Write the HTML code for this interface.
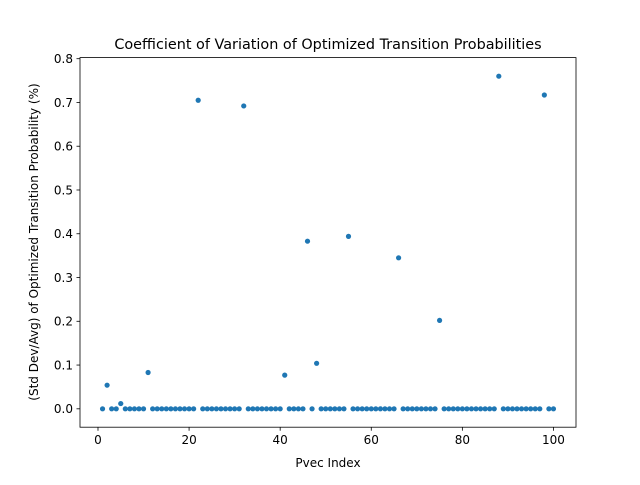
<!DOCTYPE html>
<html><head><meta charset="utf-8"><style>
body{margin:0;background:#fff}
text{font-family:"DejaVu Sans","Liberation Sans",sans-serif;fill:#000}
</style></head><body>
<svg id="chart" width="640" height="480">
<rect width="640" height="480" fill="#fff"/>
<text x="328" y="49" font-size="14.4" text-anchor="middle">Coefficient of Variation of Optimized Transition Probabilities</text>
<g id="plot"></g>
<rect x="80" y="57.6" width="496" height="369.6" fill="none" stroke="#000" stroke-width="0.8"/>
<text x="328" y="467" font-size="12" text-anchor="middle">Pvec Index</text>
<text transform="translate(38,242) rotate(-90)" font-size="12" text-anchor="middle">(Std Dev/Avg) of Optimized Transition Probability (%)</text>
</svg>
<script>
const xTicks=[0,20,40,60,80,100];
const yTicks=[0,0.1,0.2,0.3,0.4,0.5,0.6,0.7,0.8];
const yTickLabels=["0.0","0.1","0.2","0.3","0.4","0.5","0.6","0.7","0.8"];
const highIdx=[2,5,11,22,32,41,46,48,55,66,75,88,98];
const highVal=[0.054,0.012,0.083,0.705,0.692,0.077,0.383,0.104,0.394,0.345,0.202,0.760,0.717];
const missingIdx=[];
const ns="http://www.w3.org/2000/svg";
const L=80,R=576,T=57.6,B=427.2;
const xMin=-3.95,xMax=104.95,yMin=-0.042,yMax=0.8025;
function sx(v){return L+(v-xMin)/(xMax-xMin)*(R-L);}
function sy(v){return B-(v-yMin)/(yMax-yMin)*(B-T);}
const g=document.getElementById('plot');
function mk(tag,attrs){const e=document.createElementNS(ns,tag);for(const k in attrs)e.setAttribute(k,attrs[k]);g.appendChild(e);return e;}
xTicks.forEach(t=>{
  const l=mk('line',{x1:sx(t),x2:sx(t),y1:B,y2:B+3.5,stroke:'#000','stroke-width':0.8});
  
  
  const tx=mk('text',{x:sx(t),y:B+17,'font-size':12,'text-anchor':'middle'});
  tx.textContent=t;
  
  
});
yTicks.forEach((t,i)=>{
  const l=mk('line',{x1:L-3.5,x2:L,y1:sy(t),y2:sy(t),stroke:'#000','stroke-width':0.8});
  
  
  const tx=mk('text',{x:L-7,y:sy(t)+4.3,'font-size':12,'text-anchor':'end'});
  tx.textContent=yTickLabels[i];
  
  
});
for(let i=1;i<=100;i++){
  if(missingIdx.includes(i))continue;
  const k=highIdx.indexOf(i);
  const v=k>=0?highVal[k]:0;
  const c=mk('circle',{cx:sx(i),cy:sy(v),r:2.6,fill:'#1f77b4'});
  
  
}
</script>
</body></html>
